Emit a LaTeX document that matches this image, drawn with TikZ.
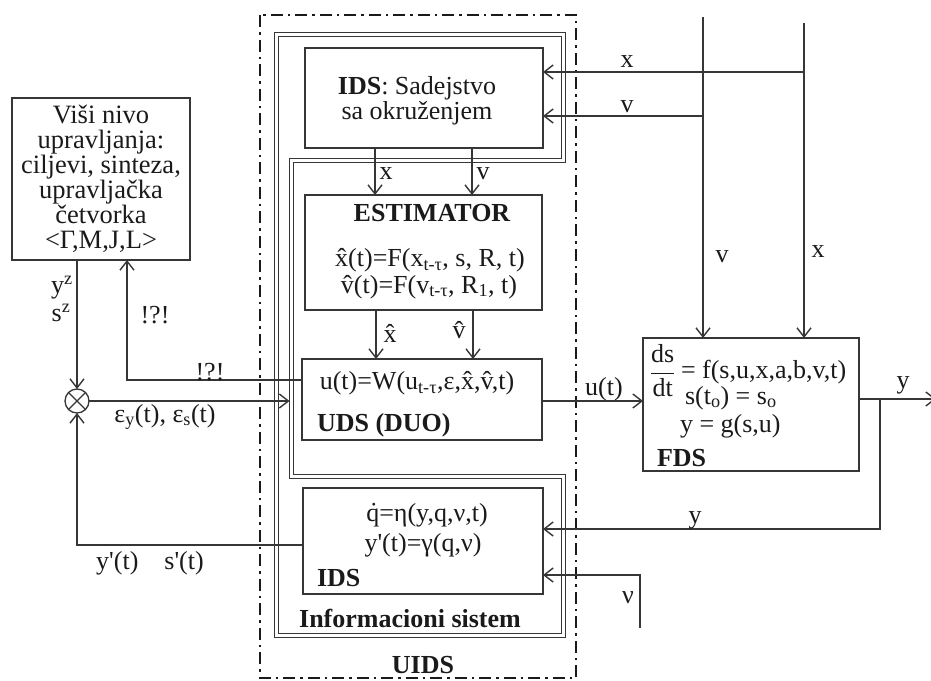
\documentclass[tikz,border=0pt]{standalone}
\usepackage{fontspec}
\setmainfont{Liberation Serif}
\usetikzlibrary{arrows.meta}
\definecolor{lc}{HTML}{363636}
\definecolor{tc}{HTML}{1A1A1A}
\begin{document}
\begin{tikzpicture}[x=1pt,y=-1pt,
  every node/.style={font=\fontsize{26}{25}\selectfont, text=tc, inner sep=0pt, outer sep=0pt},
  box/.style={draw=lc, line width=1.3pt, rectangle},
  ln/.style={draw=lc, line width=1.3pt},
  arr/.style={ln, -{Straight Barb[length=9pt,width=14pt,line width=1.4pt]}},
  hd/.style={font=\fontsize{26}{25}\selectfont\bfseries},
]
\useasboundingbox (0,0) rectangle (931,680);

% UIDS dash-dot frame
\draw[draw=tc, line width=2.5pt, dash pattern=on 12pt off 5pt on 2.5pt off 5pt] (260,15) rectangle (576,678);
% Informacioni sistem double frame (C shape)
\draw[draw=lc, line width=1pt, double=white, double distance=3pt]
  (276,34) -- (563.5,34) -- (563.5,160.5) -- (291,160.5) -- (291,476) -- (563.5,476) -- (563.5,635) -- (276,635) -- cycle;

% boxes
\node[box, minimum width=178pt, minimum height=162pt, align=center, font=\fontsize{26.5}{25}\selectfont] (visi) at (101,179)
  {Viši nivo\\upravljanja:\\ciljevi, sinteza,\\upravljačka\\četvorka\\\textless Γ,M,J,L\textgreater};
\node[box, minimum width=238pt, minimum height=100pt] (idstop) at (424,98) {};
\node[box, minimum width=237pt, minimum height=115pt] (est) at (423.5,252.5) {};
\node[box, minimum width=240pt, minimum height=81pt] (uds) at (422,399.5) {};
\node[box, minimum width=240pt, minimum height=106pt] (idsb) at (423,541) {};
\node[box, minimum width=216pt, minimum height=133pt] (fds) at (751,404.5) {};
\node[draw=lc, line width=1.3pt, circle, minimum size=24pt] (sum) at (77,401) {};
\draw[ln] (sum.north west) -- (sum.south east) (sum.north east) -- (sum.south west);

% texts inside boxes
\node[align=center] (idstt) at (417,101) {\textbf{IDS}: Sadejstvo\\sa okruženjem};
\node[hd] (estt) at (432,213) {ESTIMATOR};
\node (estf1) at (430,260) {\^{x}(t)=F(x\textsubscript{t-τ}, s, R, t)};
\node (estf2) at (429,287) {\^{v}(t)=F(v\textsubscript{t-τ}, R\textsubscript{1}, t)};
\node (udsf) at (417,383) {u(t)=W(u\textsubscript{t-τ},ε,\^{x},\^{v},t)};
\node[hd, anchor=west] (udst) at (317,425) {UDS (DUO)};
\node (idsf1) at (427,515) {\.{q}=η(y,q,ν,t)};
\node (idsf2) at (423,545) {y\textquotesingle(t)=γ(q,ν)};
\node[hd, anchor=west] (idsbt) at (317,578) {IDS};
\node[hd] (infs) at (410,618) {Informacioni sistem};
\node[hd] (uidst) at (423,665) {UIDS};
\node[anchor=base west] (fdsfr) at (650,379) {${\displaystyle\frac{\hbox{ds}}{\hbox{dt}}}$};
\node[anchor=base west] (fdsf1) at (681,378) {= f(s,u,x,a,b,v,t)};
\node[anchor=base west] (fdsf2) at (685,404) {s(t\textsubscript{o}) = s\textsubscript{o}};
\node[anchor=base west] (fdsf3) at (680,432) {y = g(s,u)};
\node[hd, anchor=base west] (fdst) at (657,466) {FDS};

% coordinates
\coordinate (xtop) at (804,23);
\coordinate (xj) at (804,72);
\coordinate (vtop) at (703,17);
\coordinate (vj) at (703,116);
\coordinate (ybr) at (880,399);
\coordinate (ybot) at (880,529);
\coordinate (yend) at (936,399);
\coordinate (nbot) at (640,628);
\coordinate (ncor) at (640,575);
\coordinate (fbl) at (77,545);
\coordinate (qc) at (127,380);
\coordinate (epsend) at (289.5,401);

% connectors
\draw[arr] (xtop) -- (xtop |- fds.north);
\draw[arr] (vtop) -- (vtop |- fds.north);
\draw[arr] (xj) -- (xj -| idstop.east);
\draw[arr] (vj) -- (vj -| idstop.east);
\draw[arr] (idstop.south -| 375,0) -- (est.north -| 375,0);
\draw[arr] (idstop.south -| 472,0) -- (est.north -| 472,0);
\draw[arr] (est.south -| 376,0) -- (uds.north -| 376,0);
\draw[arr] (est.south -| 473,0) -- (uds.north -| 473,0);
\draw[arr] (uds.east |- 0,401) -- (fds.west |- 0,401);
\draw[arr] (fds.east |- ybr) -- (yend);
\draw[arr] (ybr) -- (ybot) -- (ybot -| idsb.east);
\draw[arr] (nbot) -- (ncor) -- (ncor -| idsb.east);
\draw[arr] (idsb.west |- fbl) -- (fbl) -- (sum.south);
\draw[arr] (visi.south -| sum) -- (sum.north);
\draw[arr] (uds.west |- qc) -- (qc) -- (qc |- visi.south);
\draw[arr] (sum.east) -- (epsend);

% labels
\node (lx1) at (627,62) {x};
\node (lv1) at (627,107) {v};
\node (lv2) at (722,257) {v};
\node (lx2) at (818,252) {x};
\node (lx3) at (386,174) {x};
\node (lv3) at (483,174) {v};
\node (lxh) at (390,333) {\^{x}};
\node (lvh) at (459,330) {\^{v}};
\node (lu) at (604,389) {u(t)};
\node (ly1) at (903,385) {y};
\node (ly2) at (695,520) {y};
\node (lnu) at (628,598) {ν};
\node (lyz) at (62,288) {y\textsuperscript{z}};
\node (lsz) at (61,313) {s\textsuperscript{z}};
\node (lq1) at (155,315) {!?!};
\node (lq2) at (210,372) {!?!};
\node (leps) at (165,417) {ε\textsubscript{y}(t), ε\textsubscript{s}(t)};
\node (lys) at (150,563) {y\textquotesingle(t)\quad s\textquotesingle(t)};
\end{tikzpicture}
\end{document}
